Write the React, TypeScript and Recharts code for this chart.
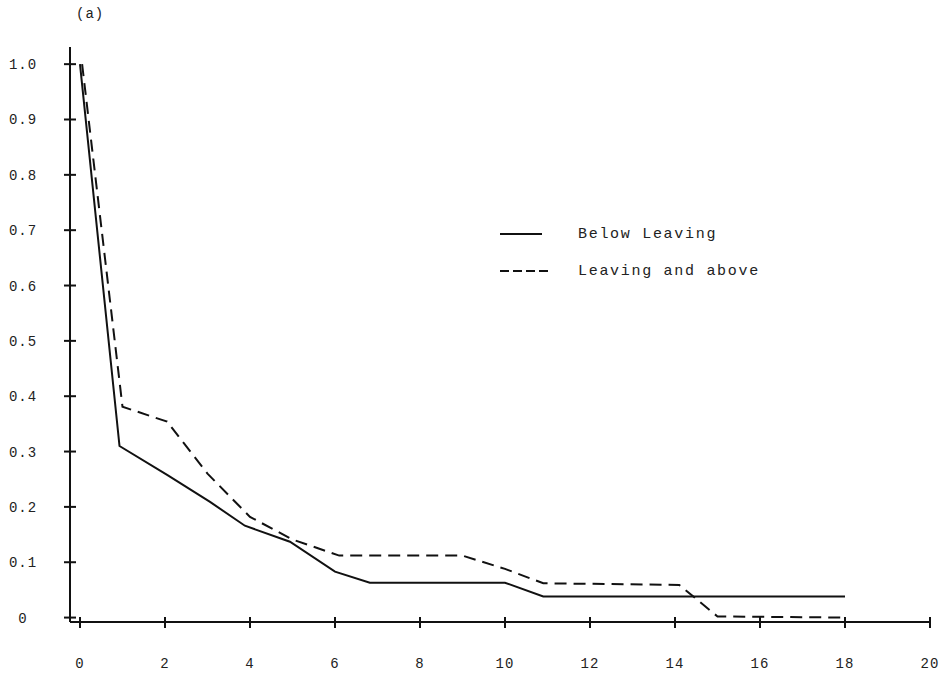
import React from 'react';
import { LineChart, Line, XAxis, YAxis, Legend } from 'recharts';

const belowX = [0, 0.93, 2.05, 3.06, 3.88, 4.94, 6.0, 6.82, 10.0, 10.9, 18.0];
const belowY = [1.0, 0.31, 0.258, 0.209, 0.166, 0.137, 0.083, 0.063, 0.063, 0.038, 0.038];

const aboveX = [0.05, 1.0, 2.05, 3.0, 4.0, 5.0, 6.1, 9.0, 10.0, 10.9, 14.1, 15.0, 18.0];
const aboveY = [1.0, 0.381, 0.354, 0.26, 0.182, 0.141, 0.112, 0.112, 0.088, 0.062, 0.059, 0.002, 0.0];

const xTicks = [0, 2, 4, 6, 8, 10, 12, 14, 16, 18, 20];
const xTickLabels = ['0', '2', '4', '6', '8', '10', '12', '14', '16', '18', '20'];
const yTicks = [0, 0.1, 0.2, 0.3, 0.4, 0.5, 0.6, 0.7, 0.8, 0.9, 1.0];
const yTickLabels = ['0', '0.1', '0.2', '0.3', '0.4', '0.5', '0.6', '0.7', '0.8', '0.9', '1.0'];

const seriesNames = ['Below Leaving', 'Leaving and above'];
const panelLabel = '(a)';

const belowData = belowX.map((x, i) => ({ x, v: belowY[i] }));
const aboveData = aboveX.map((x, i) => ({ x, v: aboveY[i] }));

const FONT = '"Liberation Mono", "DejaVu Sans Mono", monospace';
const INK = '#111';

const XTick = (props: any) => {
  const { x, y, payload } = props;
  const idx = xTicks.indexOf(payload.value);
  return (
    <g>
      <line x1={x} x2={x} y1={y - 5} y2={y + 6} stroke={INK} strokeWidth={2} />
      <text x={x} y={y + 46} textAnchor="middle" fontFamily={FONT} fontSize={14} letterSpacing={1} fill="#222">
        {idx >= 0 ? xTickLabels[idx] : payload.value}
      </text>
    </g>
  );
};

const YTick = (props: any) => {
  const { x, y, payload } = props;
  const idx = yTicks.indexOf(payload.value);
  return (
    <g>
      <line x1={x - 6} x2={x + 6} y1={y} y2={y} stroke={INK} strokeWidth={2} />
      <text x={x - 47} y={y + 5} textAnchor="middle" fontFamily={FONT} fontSize={14} letterSpacing={1} fill="#222">
        {idx >= 0 ? yTickLabels[idx] : payload.value}
      </text>
    </g>
  );
};

const LegendContent = () => (
  <div style={{ fontFamily: FONT, fontSize: 15, letterSpacing: 1.7, color: '#222' }}>
    <div style={{ display: 'flex', alignItems: 'center', height: 24 }}>
      <svg width={78} height={10}>
        <line x1={0} x2={42} y1={5} y2={5} stroke={INK} strokeWidth={2} />
      </svg>
      <span>{seriesNames[0]}</span>
    </div>
    <div style={{ display: 'flex', alignItems: 'center', height: 24, marginTop: 13 }}>
      <svg width={78} height={10}>
        <line x1={0} x2={50} y1={5} y2={5} stroke={INK} strokeWidth={2} strokeDasharray="9 4" />
      </svg>
      <span>{seriesNames[1]}</span>
    </div>
  </div>
);

export default function App() {
  return (
    <div style={{ position: 'absolute', left: 0, top: 0, width: 951, height: 680, background: '#fff' }}>
      <div style={{ position: 'absolute', left: 76, top: 6, fontFamily: FONT, fontSize: 14, letterSpacing: 1, color: '#222' }}>
        {panelLabel}
      </div>
      <LineChart width={951} height={680} margin={{ top: 47, right: 21, bottom: 57, left: 69 }}>
        <XAxis
          type="number"
          dataKey="x"
          domain={[-0.235, 20]}
          ticks={xTicks}
          allowDataOverflow
          height={1}
          tickSize={0}
          tickMargin={0}
          tickLine={false}
          axisLine={{ stroke: INK, strokeWidth: 2 }}
          tick={<XTick />}
          interval={0}
        />
        <YAxis
          type="number"
          domain={[-0.008, 1.031]}
          ticks={yTicks}
          allowDataOverflow
          width={1}
          tickSize={0}
          tickMargin={0}
          tickLine={false}
          axisLine={{ stroke: INK, strokeWidth: 2 }}
          tick={<YTick />}
          interval={0}
        />
        <Legend
          layout="horizontal"
          verticalAlign="middle"
          align="center"
          content={<LegendContent />}
          wrapperStyle={{ position: 'absolute', left: 500, top: 222, width: 320 }}
        />
        <Line
          data={belowData}
          dataKey="v"
          name={seriesNames[0]}
          type="linear"
          stroke={INK}
          strokeWidth={2}
          dot={false}
          isAnimationActive={false}
        />
        <Line
          data={aboveData}
          dataKey="v"
          name={seriesNames[1]}
          type="linear"
          stroke={INK}
          strokeWidth={2}
          strokeDasharray="12 7"
          dot={false}
          isAnimationActive={false}
        />
      </LineChart>
    </div>
  );
}
